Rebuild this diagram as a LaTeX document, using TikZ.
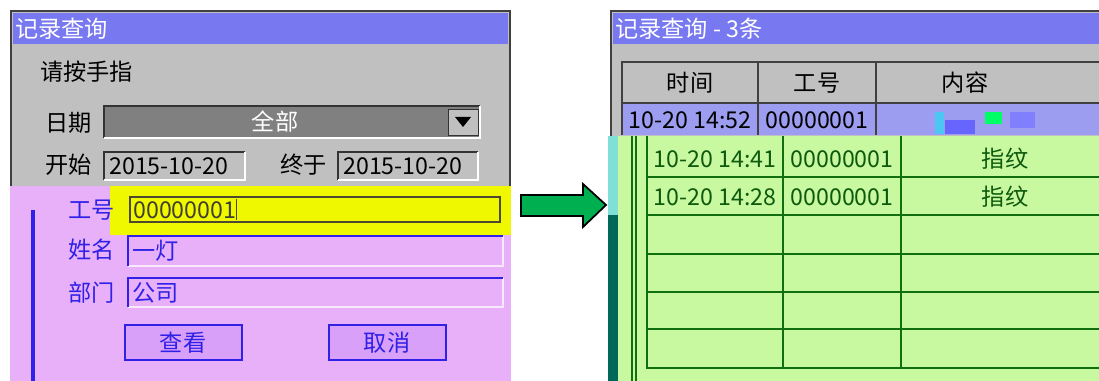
\documentclass[tikz,border=0pt]{standalone}
\usepackage{fontspec}
\setmainfont{Noto Sans CJK SC}
\usepackage{xcolor}
\definecolor{titlebar}{HTML}{7878F0}
\definecolor{wingray}{HTML}{C0C0C0}
\definecolor{boxgray}{HTML}{808080}
\definecolor{lilac}{HTML}{E8B0F8}
\definecolor{lilacbtn}{HTML}{D8A0F8}
\definecolor{inkblue}{HTML}{3020E8}
\definecolor{hilite}{HTML}{F0F800}
\definecolor{rowblue}{HTML}{9C9CF0}
\definecolor{leaf}{HTML}{C8F8A0}
\definecolor{inkgreen}{HTML}{107010}
\definecolor{tealbar}{HTML}{006858}
\definecolor{aqua}{HTML}{80E0D8}
\definecolor{arrowgreen}{HTML}{00B050}

\begin{document}
\begin{tikzpicture}
  [x=0.02cm, y=-0.02cm,
   every node/.style={font=\fontsize{13.2}{14}\selectfont, inner sep=0pt},
   title/.style={anchor=west, text=white},
   label/.style={anchor=west},
   bluelabel/.style={anchor=west, text=inkblue},
   greentext/.style={text=inkgreen!80!black},
   grid/.style={draw=inkgreen, line width=0.7pt},
  ]
  \useasboundingbox (0,0) rectangle (1099,381);

  % left window
  \fill[black!75] (10,10) rectangle (511,381);
  \fill[wingray] (12,12) rectangle (509,381);
  \fill[titlebar] (13,13) rectangle (508,44);
  \node[title] (ltitle) at (15,29) {记录查询};
  \node[label] (hint) at (40,72) {请按手指};

  \node[label] (date) at (45,123) {日期};
  \fill[boxgray] (104,106) rectangle (480,138);
  \draw[black!80, line width=1pt] (104,138) -- (104,106) -- (480,106);
  \draw[white, line width=1pt] (104,138) -- (480,138) -- (480,106);
  \node[text=white] (all) at (275,122) {全部};
  \fill[wingray] (448,109) rectangle (478,135);
  \draw[black!80] (448,109) rectangle (478,135);
  \fill[black] (455,117) -- (471,117) -- (463,127) -- cycle;

  \node[label] (start) at (45,165) {开始};
  \draw[black!80, line width=1pt] (104,180) -- (104,152) -- (245,152);
  \draw[white, line width=1pt] (104,180) -- (245,180) -- (245,152);
  \node[label] (sdate) at (109,166) {2015-10-20};
  \node[label] (stop) at (280,165) {终于};
  \draw[black!80, line width=1pt] (338,180) -- (338,152) -- (478,152);
  \draw[white, line width=1pt] (338,180) -- (478,180) -- (478,152);
  \node[label] (edate) at (343,166) {2015-10-20};

  % lower part of the left window
  \fill[lilac] (10,186) rectangle (511,381);
  \fill[hilite] (110,186) rectangle (511,235);
  \draw[black!60!olive, line width=1pt] (130,197) rectangle (500,222);
  \draw[black!60!olive] (236,199) -- (236,220);
  \node[bluelabel] (idlabel) at (68,210) {工号};
  \node[label, text=black!70!olive] (id) at (133,210) {00000001};
  \draw[inkblue, line width=2.6pt] (33,210) -- (33,381);

  \node[bluelabel] (name) at (68,250) {姓名};
  \draw[white!70!lilac, line width=1pt] (128,266) -- (503,266) -- (503,236);
  \draw[inkblue, line width=1pt] (128,266) -- (128,236) -- (503,236);
  \node[bluelabel] (namev) at (132,251) {一灯};

  \node[bluelabel] (dept) at (68,293) {部门};
  \draw[white!70!lilac, line width=1pt] (128,307) -- (503,307) -- (503,278);
  \draw[inkblue, line width=1pt] (128,307) -- (128,278) -- (503,278);
  \node[bluelabel] (deptv) at (132,293) {公司};

  \draw[fill=lilacbtn, draw=inkblue, line width=1pt] (125,325) rectangle (242,360);
  \node[text=inkblue] (view) at (183,343) {查看};
  \draw[fill=lilacbtn, draw=inkblue, line width=1pt] (329,325) rectangle (446,360);
  \node[text=inkblue] (cancel) at (387,343) {取消};

  % arrow
  \draw[fill=arrowgreen, line width=1pt, line join=miter]
    (521,195) -- (583,195) -- (583,184) -- (606,205) -- (583,227)
    -- (583,216) -- (521,216) -- cycle;

  % right window
  \fill[black!75] (610,10) rectangle (1099,381);
  \fill[wingray] (612,12) rectangle (1099,381);
  \fill[titlebar] (613,13) rectangle (1099,44);
  \node[title] (rtitle) at (615,29) {记录查询 - 3条};

  \fill[wingray] (622,62) rectangle (1099,103);
  \fill[rowblue] (622,103) rectangle (1099,135);
  \draw[black!75, line width=1pt] (1099,62) -- (622,62) -- (622,135);
  \draw[black!75, line width=1pt] (622,103) -- (1099,103);
  \draw[black!75, line width=1pt] (758,62) -- (758,135) (876,62) -- (876,135);
  \node (hcol1) at (690,83) {时间};
  \node (hcol2) at (817,83) {工号};
  \node (hcol3) at (965,83) {内容};
  \node (r1c1) at (690,120) {10-20 14:52};
  \node (r1c2) at (817,120) {00000001};
  \fill[cyan!70] (935,112) rectangle (944,134);
  \fill[blue!60] (945,120) rectangle (975,134);
  \fill[green!60!cyan] (985,112) rectangle (1002,124);
  \fill[blue!50] (1010,112) rectangle (1035,128);

  \fill[leaf] (608,136) rectangle (1099,381);
  \fill[aqua] (608,136) rectangle (618,215);
  \fill[tealbar] (608,215) rectangle (618,381);
  \draw[inkgreen, line width=1pt] (632,136) -- (632,381) (636,136) -- (636,381);
  \draw[grid] (647,136) -- (647,368) -- (1099,368);
  \draw[grid] (783,136) -- (783,368) (901,136) -- (901,368);
  \foreach \y in {177,215,254,292,329} {
    \draw[grid] (647,\y) -- (1099,\y);
  }
  \node[greentext] (r2c1) at (715,159) {10-20 14:41};
  \node[greentext] (r2c2) at (842,159) {00000001};
  \node[greentext] (r2c3) at (1005,159) {指纹};
  \node[greentext] (r3c1) at (715,197) {10-20 14:28};
  \node[greentext] (r3c2) at (842,197) {00000001};
  \node[greentext] (r3c3) at (1005,197) {指纹};
\end{tikzpicture}
\end{document}
